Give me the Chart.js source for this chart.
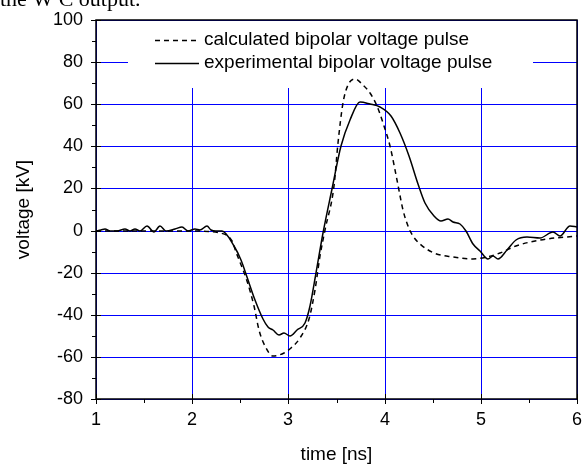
<!DOCTYPE html>
<html>
<head>
<meta charset="utf-8">
<script src="https://cdn.jsdelivr.net/npm/chart.js@4/dist/chart.umd.min.js"></script>
<style>
  html, body { margin: 0; padding: 0; background: #fff; }
  #wrap { width: 584px; height: 466px; }
</style>
</head>
<body>
<div id="wrap"><canvas id="pulse" width="584" height="466"></canvas></div>
<script>
// values
const calcTime = [1.0, 1.5, 2.0, 2.29, 2.41, 2.46, 2.57, 2.64, 2.69, 2.76, 2.84, 2.95, 3.03, 3.12, 3.21, 3.28,
  3.33, 3.38, 3.47, 3.52, 3.57, 3.62, 3.69, 3.78, 3.85, 3.92, 3.99, 4.06, 4.13, 4.19, 4.24, 4.30, 4.37, 4.51,
  4.71, 4.92, 5.06, 5.2, 5.37, 5.62, 6.0];
const calcVoltage = [0, 0, 0, -1, -5, -10, -24, -36, -47, -55, -59.4, -58, -56, -51, -42, -28,
  -12, 0.5, 21, 41.6, 60.6, 69.3, 71.9, 69.3, 65.4, 59, 49.5, 40, 24, 10, 2, -2.5, -6.6, -10.6,
  -12.7, -13.3, -12.7, -10.6, -7.5, -4.3, -2.7];

const expTime = [1.0, 1.05, 1.09, 1.15, 1.22, 1.30, 1.35, 1.41, 1.46, 1.53, 1.60, 1.67, 1.73, 1.82, 1.89, 1.96,
  2.03, 2.08, 2.15, 2.20, 2.25, 2.31, 2.43, 2.51, 2.57, 2.65, 2.74, 2.79, 2.84, 2.90, 2.95, 3.02, 3.09, 3.17,
  3.22, 3.29, 3.36, 3.45, 3.55, 3.64, 3.74, 3.85, 3.95, 4.07, 4.16, 4.25, 4.35, 4.42, 4.51, 4.59, 4.66, 4.71,
  4.78, 4.85, 4.92, 4.99, 5.08, 5.13, 5.18, 5.27, 5.37, 5.48, 5.62, 5.75, 5.82, 5.93, 6.0];
const expVoltage = [0, 0.5, 0.8, 0, 0, 0.8, 0, 0.8, 0, 2, -0.6, 2, -0.3, 0.8, 1.5, 0,
  0.8, 0.4, 2.3, 0.4, 0, 0, -7.5, -14, -22, -33, -42, -46, -47, -49.4, -48.6, -50, -47, -43.8,
  -36, -20, -1, 19.5, 40, 52.7, 61, 60, 58.7, 54.3, 46.4, 35.3, 22, 13.1, 6.8, 4.5, 5.5, 4,
  3, -0.3, -6.6, -9.8, -13.4, -12.2, -13.3, -9, -4.3, -3.2, -3.5, -0.8, -2.4, 2, 1.7];

const seriesNames = ["calculated bipolar voltage pulse", "experimental bipolar voltage pulse"];
const xTicks = [1, 2, 3, 4, 5, 6];
const yTicks = [-80, -60, -40, -20, 0, 20, 40, 60, 80, 100];

const FONT = "'Liberation Sans', Arial, sans-serif";
Chart.defaults.font.family = FONT;
Chart.defaults.color = "#000";

const toPoints = (xs, ys) => xs.map((x, i) => ({ x: x, y: ys[i] }));

// white legend box, drawn over the grid but under the curves
const legendBox = {
  id: "legendBox",
  beforeDatasetsDraw(chart) {
    const ctx = chart.ctx;
    ctx.save();
    ctx.fillStyle = "#fff";
    ctx.fillRect(128, chart.chartArea.top + 1, 405, 88 - chart.chartArea.top - 1);
    ctx.restore();
  },
  afterDatasetsDraw(chart) {
    const ctx = chart.ctx;
    ctx.save();
    ctx.strokeStyle = "#000";
    ctx.lineWidth = 1.5;
    const rows = [40, 63];
    chart.data.datasets.forEach((ds, i) => {
      ctx.setLineDash(ds.borderDash || []);
      ctx.beginPath();
      ctx.moveTo(155, rows[i] + 0.5);
      ctx.lineTo(199, rows[i] + 0.5);
      ctx.stroke();
    });
    ctx.setLineDash([]);
    ctx.fillStyle = "#000";
    ctx.font = "19px " + FONT;
    ctx.textBaseline = "middle";
    seriesNames.forEach((name, i) => ctx.fillText(name, 204, rows[i]));
    ctx.restore();
  }
};

// frame, major and minor ticks, cropped caption line at the top
const frame = {
  id: "frame",
  afterDraw(chart) {
    const ctx = chart.ctx;
    const { left, right, top, bottom } = chart.chartArea;
    const xs = chart.scales.x, ys = chart.scales.y;
    ctx.save();
    ctx.strokeStyle = "#000";
    ctx.lineWidth = 1;
    ctx.beginPath();
    yTicks.forEach((v, i) => {
      const y = Math.round(ys.getPixelForValue(v)) + 0.5;
      ctx.moveTo(left - 5, y); ctx.lineTo(left + 5, y);
      if (i < yTicks.length - 1) {
        const ym = Math.round(ys.getPixelForValue((v + yTicks[i + 1]) / 2)) + 0.5;
        ctx.moveTo(left - 4, ym); ctx.lineTo(left, ym);
      }
    });
    xTicks.forEach((v, i) => {
      const x = Math.round(xs.getPixelForValue(v)) + 0.5;
      ctx.moveTo(x, bottom - 5); ctx.lineTo(x, bottom + 5);
      if (i < xTicks.length - 1) {
        const xm = Math.round(xs.getPixelForValue((v + xTicks[i + 1]) / 2)) + 0.5;
        ctx.moveTo(xm, bottom); ctx.lineTo(xm, bottom + 4);
      }
    });
    ctx.stroke();
    ctx.lineWidth = 1.5;
    ctx.strokeRect(Math.round(left), Math.round(top), Math.round(right - left), Math.round(bottom - top));
    ctx.fillStyle = "#000";
    ctx.font = "22px 'Liberation Serif', 'Times New Roman', serif";
    ctx.textBaseline = "alphabetic";
    ctx.fillText("the W C output.", 0, 6);
    ctx.restore();
  }
};

new Chart(document.getElementById("pulse"), {
  type: "line",
  data: {
    datasets: [
      {
        label: seriesNames[0],
        data: toPoints(calcTime, calcVoltage),
        borderColor: "#000",
        borderWidth: 1.5,
        borderDash: [5, 4],
        pointRadius: 0,
        cubicInterpolationMode: "monotone",
        fill: false
      },
      {
        label: seriesNames[1],
        data: toPoints(expTime, expVoltage),
        borderColor: "#000",
        borderWidth: 1.5,
        pointRadius: 0,
        cubicInterpolationMode: "monotone",
        fill: false
      }
    ]
  },
  options: {
    responsive: false,
    animation: false,
    layout: { padding: { left: 0, top: 20, right: 7, bottom: 0 } },
    plugins: { legend: { display: false }, tooltip: { enabled: false } },
    scales: {
      x: {
        type: "linear",
        min: 1, max: 6,
        alignToPixels: true,
        afterBuildTicks: s => { s.ticks = xTicks.map(v => ({ value: v })); },
        afterFit: s => { s.height = 67; s.paddingLeft = 0; s.paddingRight = 0; },
        grid: { color: "#0000ff", lineWidth: 1, drawTicks: false },
        border: { display: false },
        ticks: { padding: 10, font: { size: 18 }, color: "#000", maxRotation: 0 },
        title: { display: true, text: "time [ns]", font: { size: 19 }, color: "#000", padding: { top: 0, bottom: 0 } }
      },
      y: {
        min: -80, max: 100,
        alignToPixels: true,
        afterBuildTicks: s => { s.ticks = yTicks.map(v => ({ value: v })); },
        afterFit: s => { s.width = 96; s.paddingTop = 0; s.paddingBottom = 0; },
        grid: { color: "#0000ff", lineWidth: 1, drawTicks: false },
        border: { display: false },
        ticks: { padding: 13, font: { size: 18 }, color: "#000" },
        title: { display: true, text: "voltage [kV]", font: { size: 19 }, color: "#000", padding: { top: 12, bottom: 0 } }
      }
    }
  },
  plugins: [legendBox, frame]
});
</script>
</body>
</html>
